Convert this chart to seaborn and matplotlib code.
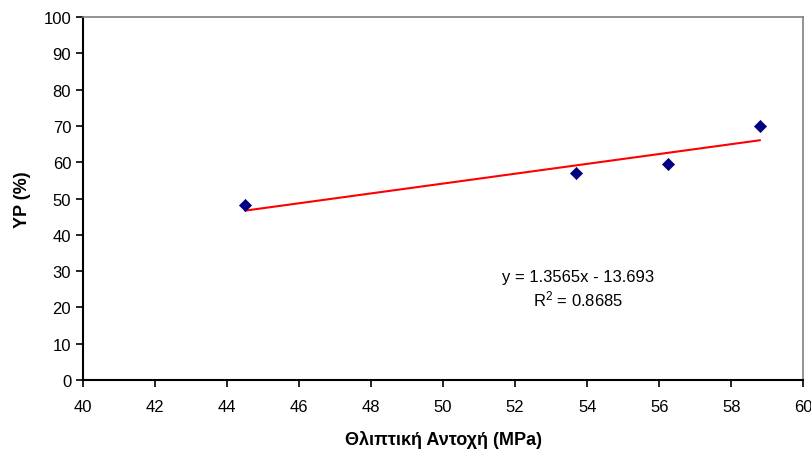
import matplotlib
matplotlib.use("Agg")
import matplotlib.pyplot as plt
import seaborn as sns
import numpy as np
import pandas as pd

# data
strength_mpa = [44.5, 53.7, 56.25, 58.8]
yp_percent = [48.3, 57.0, 59.6, 70.0]
slope = 1.3565
intercept = -13.693
eq_text = "y = 1.3565x - 13.693"
r2_text = "R$^2$ = 0.8685"
x_label = "Θλιπτική Αντοχή (MPa)"
y_label = "YP (%)"

sns.set_style("white")
plt.rcParams['font.family'] = ['Liberation Sans', 'DejaVu Sans']
plt.rcParams['text.color'] = 'black'
plt.rcParams['axes.labelcolor'] = 'black'
plt.rcParams['mathtext.default'] = 'regular'

fig = plt.figure(figsize=(8.12, 4.52), dpi=100)
ax = fig.add_axes([0.1022, 0.157, 0.887, 0.803])

df = pd.DataFrame({"x": strength_mpa, "y": yp_percent})
xs = np.array([min(strength_mpa), max(strength_mpa)])
line_df = pd.DataFrame({"x": xs, "y": slope * xs + intercept})
sns.lineplot(data=line_df, x="x", y="y", ax=ax, color="#ff0000", linewidth=1.5)
sns.scatterplot(data=df, x="x", y="y", ax=ax, marker="D", s=38, color="#000080",
                edgecolor="#000080", zorder=3)

ax.set_xlim(40, 60)
ax.set_ylim(0, 100)
ax.set_xticks(np.arange(40, 61, 2))
ax.set_yticks(np.arange(0, 101, 10))
ax.tick_params(axis="both", direction="out", length=5, width=1.2, labelsize=12,
               colors="black", bottom=True, left=True)
ax.tick_params(axis="x", pad=9)
for s in ["left", "bottom"]:
    ax.spines[s].set_color("black")
    ax.spines[s].set_linewidth(1.5)
for s in ["top", "right"]:
    ax.spines[s].set_color("#808080")
    ax.spines[s].set_linewidth(1.2)

ax.set_xlabel(x_label, fontsize=13, fontweight="bold", labelpad=11, color="black")
ax.set_ylabel(y_label, fontsize=13, fontweight="bold", labelpad=9, color="black")

ax.text(53.75, 28.4, eq_text, ha="center", va="center", fontsize=12, color="black")
ax.text(53.75, 22.4, r2_text, ha="center", va="center", fontsize=12, color="black")

fig.savefig("out.png", dpi=100)
